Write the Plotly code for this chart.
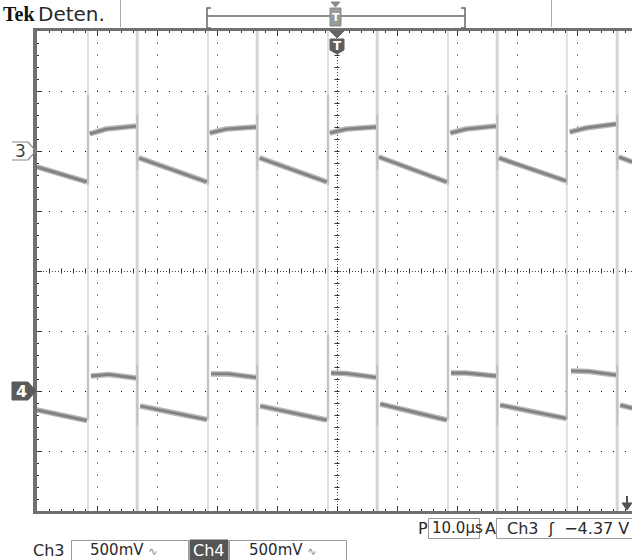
import plotly.graph_objects as go

# ---------------- data (time in µs, voltage in V) ----------------
TIME_PER_DIV = 10.0          # 10.0 µs / div
CH3_VOLT_PER_DIV = 0.5       # 500 mV / div
CH4_VOLT_PER_DIV = 0.5
CH3_OFFSET_DIV = 2.0         # ground marker of Ch3 (divisions above centre)
CH4_OFFSET_DIV = -2.0        # ground marker of Ch4

# Ch3 trace (segments separated by None)
ch3_t = [-50.0, -41.7, None,
         -41.2, -38.5, -33.5, None,
         -33.0, -21.7, None,
         -21.2, -18.5, -13.5, None,
         -12.9, -1.7, None,
         -1.2, 1.5, 6.5, None,
         7.0, 18.3, None,
         18.9, 21.5, 26.5, None,
         27.0, 38.2, None,
         38.8, 41.5, 46.5, None,
         47.0, 49.2]
ch3_v = [-0.133, -0.258, None,
         0.142, 0.183, 0.208, None,
         -0.058, -0.258, None,
         0.150, 0.183, 0.200, None,
         -0.058, -0.258, None,
         0.150, 0.183, 0.200, None,
         -0.050, -0.258, None,
         0.150, 0.183, 0.208, None,
         -0.058, -0.250, None,
         0.158, 0.192, 0.225, None,
         -0.050, -0.092]

# Ch4 trace
ch4_t = [-50.0, -41.7, None,
         -41.0, -38.0, -33.5, None,
         -32.8, -21.7, None,
         -21.0, -18.0, -13.5, None,
         -12.8, -1.7, None,
         -1.0, 1.5, 6.5, None,
         7.2, 18.3, None,
         19.0, 21.5, 26.5, None,
         27.2, 38.2, None,
         39.0, 42.0, 46.5, None,
         47.2, 49.2]
ch4_v = [-0.158, -0.246, None,
         0.125, 0.138, 0.108, None,
         -0.125, -0.238, None,
         0.142, 0.142, 0.113, None,
         -0.125, -0.242, None,
         0.150, 0.146, 0.113, None,
         -0.108, -0.242, None,
         0.150, 0.150, 0.125, None,
         -0.117, -0.229, None,
         0.167, 0.163, 0.133, None,
         -0.117, -0.142]

# switching edges (µs)
rise_t = [-41.5, -21.5, -1.5, 18.5, 38.3]
fall_t = [-33.3, -13.3, 6.7, 26.7, 46.7]

# ringing spikes at the edges: (top V, bottom V)
ch3_rise_spike = (0.467, -0.283)
ch3_fall_spike = (0.300, -0.158)
ch4_rise_spike = (0.467, -0.242)
ch4_fall_spike = (0.217, -0.283)

# ---------------- geometry ----------------
W, H = 632, 560
ML, MT, MB = 37, 31, 49
PW = W - ML
PH = H - MT - MB
X0 = -5 * TIME_PER_DIV
X1 = X0 + PW / 60.0 * TIME_PER_DIV
US_PER_PX = TIME_PER_DIV / 60.0

ch3_range = [(-4 - CH3_OFFSET_DIV) * CH3_VOLT_PER_DIV, (4 - CH3_OFFSET_DIV) * CH3_VOLT_PER_DIV]
ch4_range = [(-4 - CH4_OFFSET_DIV) * CH4_VOLT_PER_DIV, (4 - CH4_OFFSET_DIV) * CH4_VOLT_PER_DIV]


def px(x):
    return (x - ML) / PW


def py(y):
    return (H - MB - y) / PH


def seg(times, lo, hi):
    xs, ys = [], []
    for t in times:
        xs += [t, t, None]
        ys += [lo, hi, None]
    return xs, ys


fig = go.Figure()

# full-height faint edge lines
xs, ys = seg(rise_t, ch3_range[0], ch3_range[1])
fig.add_trace(go.Scatter(x=xs, y=ys, mode="lines", line=dict(color="#e0e0e0", width=2),
                         hoverinfo="skip", showlegend=False))
xs, ys = seg(fall_t, ch3_range[0], ch3_range[1])
fig.add_trace(go.Scatter(x=xs, y=ys, mode="lines", line=dict(color="#d4d4d4", width=3),
                         hoverinfo="skip", showlegend=False))

# ringing spikes
for times, sp, ax in [(rise_t, ch3_rise_spike, "y"), (fall_t, ch3_fall_spike, "y"),
                      (rise_t, ch4_rise_spike, "y2"), (fall_t, ch4_fall_spike, "y2")]:
    xs, ys = seg(times, sp[1], sp[0])
    fig.add_trace(go.Scatter(x=xs, y=ys, yaxis=ax, mode="lines",
                             line=dict(color="#c6c6c6", width=2.5),
                             hoverinfo="skip", showlegend=False))

# waveforms (halo + core)
for t, v, ax in [(ch3_t, ch3_v, "y"), (ch4_t, ch4_v, "y2")]:
    fig.add_trace(go.Scatter(x=t, y=v, yaxis=ax, mode="lines",
                             line=dict(color="#b8b8b8", width=5.5),
                             hoverinfo="skip", showlegend=False))
    fig.add_trace(go.Scatter(x=t, y=v, yaxis=ax, mode="lines",
                             line=dict(color="#828282", width=2.8),
                             hoverinfo="skip", showlegend=False))

shapes = []
HALF_T = 0.5 * US_PER_PX
HALF_P = 0.5 / PH
# dotted graticule
for k in range(-4, 5):
    if k == 0:
        continue
    shapes.append(dict(type="line", xref="x", yref="paper", x0=k * TIME_PER_DIV + HALF_T,
                       x1=k * TIME_PER_DIV + HALF_T,
                       y0=-HALF_P, y1=1, layer="below", line=dict(color="#111", width=1, dash="1px,11px")))
for k in range(1, 8):
    if k == 4:
        continue
    shapes.append(dict(type="line", xref="paper", yref="paper", x0=0, x1=1, y0=k / 8 - HALF_P,
                       y1=k / 8 - HALF_P,
                       layer="below", line=dict(color="#111", width=1, dash="1px,11px")))
# centre cross with minor ticks
shapes.append(dict(type="line", xref="x", yref="paper", x0=HALF_T, x1=HALF_T, y0=0, y1=1, layer="below",
                   line=dict(color="#444", width=1, dash="1px,2px")))
shapes.append(dict(type="line", xref="paper", yref="paper", x0=0, x1=1, y0=0.5 - HALF_P, y1=0.5 - HALF_P,
                   layer="below", line=dict(color="#444", width=1, dash="1px,2px")))
tk = 2.5
for i in range(-24, 25):
    t = i * TIME_PER_DIV / 5 + HALF_T
    if t < X0 or t > X1:
        continue
    shapes.append(dict(type="line", xref="x", yref="paper", x0=t, x1=t,
                       y0=0.5 - tk / PH, y1=0.5 + tk / PH, layer="below",
                       line=dict(color="#333", width=1)))
for i in range(1, 40):
    yy = i / 40 - HALF_P
    shapes.append(dict(type="line", xref="x", yref="paper", x0=-tk * US_PER_PX, x1=tk * US_PER_PX,
                       y0=yy, y1=yy, layer="below", line=dict(color="#333", width=1)))


# ---------- decorations outside the graticule ----------
def line_px(x0, y0, x1, y1, color="#777", width=1):
    shapes.append(dict(type="line", xref="paper", yref="paper", x0=px(x0), x1=px(x1),
                       y0=py(y0), y1=py(y1), line=dict(color=color, width=width)))


def rect_px(x0, y0, x1, y1, line="#999", fill="rgba(0,0,0,0)", width=1):
    shapes.append(dict(type="rect", xref="paper", yref="paper", x0=px(x0), x1=px(x1),
                       y0=py(y1), y1=py(y0), fillcolor=fill, line=dict(color=line, width=width)))


def path_px(pts, fill=None, color="#777", width=1, close=True):
    d = "M " + " L ".join(f"{px(a):.5f},{py(b):.5f}" for a, b in pts)
    if close:
        d += " Z"
    shapes.append(dict(type="path", xref="paper", yref="paper", path=d,
                       fillcolor=fill if fill else "rgba(0,0,0,0)",
                       line=dict(color=color, width=width)))


# header separators
line_px(120.5, 0, 120.5, 27, "#aaa", 1)
line_px(551.5, 0, 551.5, 27, "#aaa", 1)
# record-length bracket
path_px([(211, 8), (207, 8), (207, 28), (211, 28)], color="#666", width=1.5, close=False)
path_px([(461, 8), (465, 8), (465, 28), (461, 28)], color="#666", width=1.5, close=False)
line_px(207, 16, 465, 16, "#666", 1.5)
# trigger position marker in record bar
path_px([(331, 2), (340, 2), (335.5, 7)], fill="#888", color="#888")
rect_px(330, 8, 341, 26, line="#888", fill="#9a9a9a")
# trigger position marker on the graticule
path_px([(330, 31), (344, 31), (337, 38)], fill="#666", color="#666")
path_px([(330, 39), (344, 39), (344, 50), (337, 54), (330, 50)], fill="#5e5e5e", color="#5e5e5e")
# channel ground markers
path_px([(12, 142), (28, 142), (36, 151), (28, 160), (12, 160)], color="#888", width=1.2, close=False)
path_px([(12, 382), (28, 382), (36, 391), (28, 400), (12, 400)], fill="#5a5a5a", color="#5a5a5a")
# trigger level arrow (bottom right)
line_px(627, 496, 627, 505, "#555", 2)
path_px([(622, 503), (632, 503), (627, 510)], fill="#555", color="#555")
# readout boxes
rect_px(428.5, 518.5, 479.5, 538.5)
rect_px(496.5, 518.5, 640, 538.5)
rect_px(71.5, 540.5, 188.5, 562)
rect_px(190, 540, 228, 560, line="#555", fill="#555")
rect_px(229.5, 540.5, 346.5, 562)

ann = []
FONT = "DejaVu Sans"


def text_px(x, y, s, size=15, color="#2a2a2a", family=FONT, anchor="left"):
    ann.append(dict(x=px(x), y=py(y), xref="paper", yref="paper", text=s, showarrow=False,
                    xanchor=anchor, yanchor="middle", font=dict(family=family, size=size, color=color)))


text_px(1, 14, "<b>Tek</b>", size=20, family="Liberation Serif", color="#111")
text_px(36, 14, "Deten.", size=20)
text_px(335.5, 17, "<b>T</b>", size=11, color="#ffffff", anchor="center")
text_px(337, 46, "<b>T</b>", size=12, color="#ffffff", anchor="center")
text_px(20, 151, "3", size=17, color="#444", anchor="center")
text_px(21, 391, "<b>4</b>", size=16, color="#ffffff", anchor="center")
text_px(416, 528, "P", size=16)
text_px(430, 528, "10.0µs", size=15)
text_px(483, 528, "A", size=16)
text_px(505, 528, "Ch3  ʃ  −4.37 V", size=16)
text_px(31, 550, "Ch3", size=16)
text_px(88, 550, "500mV <span style='font-size:11px;color:#888'>∿</span>", size=15)
text_px(209, 550, "Ch4", size=16, color="#ffffff", anchor="center")
text_px(247, 550, "500mV <span style='font-size:11px;color:#888'>∿</span>", size=15)

fig.update_layout(
    width=W, height=H,
    margin=dict(l=ML, r=0, t=MT, b=MB, pad=0),
    paper_bgcolor="white", plot_bgcolor="white",
    showlegend=False,
    shapes=shapes, annotations=ann,
    xaxis=dict(range=[X0, X1], showgrid=False, zeroline=False, showticklabels=False,
               showline=True, linecolor="#707070", linewidth=3, mirror="ticks",
               ticks="inside", ticklen=5, tickwidth=1, tickcolor="#333",
               tick0=0, dtick=TIME_PER_DIV,
               minor=dict(ticks="inside", ticklen=2, dtick=TIME_PER_DIV / 5, tickcolor="#333", showgrid=False)),
    yaxis=dict(range=ch3_range, showgrid=False, zeroline=False, showticklabels=False,
               showline=True, linecolor="#707070", linewidth=4,
               ticks="inside", ticklen=5, tickwidth=1, tickcolor="#333",
               tick0=0, dtick=CH3_VOLT_PER_DIV,
               minor=dict(ticks="inside", ticklen=2, dtick=CH3_VOLT_PER_DIV / 5, tickcolor="#333", showgrid=False)),
    yaxis2=dict(range=ch4_range, overlaying="y", visible=False),
)

fig.write_html("out.html", config={"displayModeBar": False},
               post_script="document.body.style.margin='0';document.body.style.overflow='hidden';")
